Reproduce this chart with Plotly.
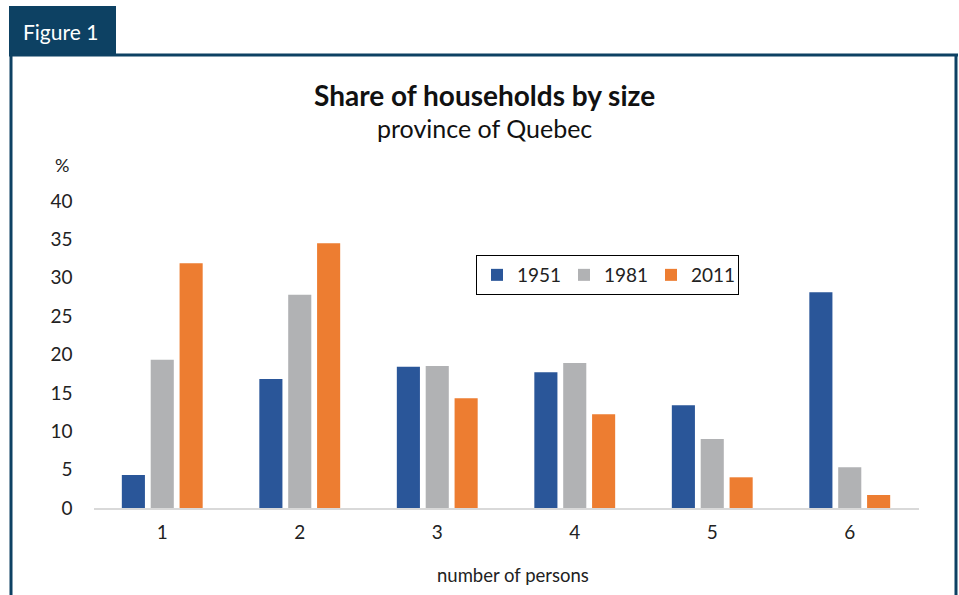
import plotly.graph_objects as go

W, H = 959, 595
categories = ["1", "2", "3", "4", "5", "6"]
years = ["1951", "1981", "2011"]
v1951 = [4.3, 16.8, 18.4, 17.7, 13.4, 28.1]
v1981 = [19.3, 27.8, 18.5, 18.9, 9.0, 5.3]
v2011 = [31.9, 34.5, 14.3, 12.2, 4.0, 1.7]
colors = ["#2a5699", "#b1b2b4", "#ed7d31"]
yticks = [0, 5, 10, 15, 20, 25, 30, 35, 40]

FONT = "Lato"
def px(x): return x / W
def py(y): return 1 - y / H

fig = go.Figure()
for name, vals, c in zip(years, [v1951, v1981, v2011], colors):
    fig.add_trace(go.Bar(x=categories, y=vals, name=name, marker=dict(color=c, line=dict(width=0))))

frame = "#0d4163"
fig.update_layout(
    width=W, height=H, autosize=False,
    margin=dict(l=0, r=0, t=0, b=0, pad=0, autoexpand=False),
    paper_bgcolor="white", plot_bgcolor="white",
    barmode="group", bargap=0.37, bargroupgap=0.2,
    font=dict(family=FONT, color="#222222"),
    xaxis=dict(domain=[px(93.5), px(918.5)], showgrid=False, showline=True,
               linecolor="#d9d9d9", linewidth=2, ticks="", tickfont=dict(size=19),
               ticklabelstandoff=6, automargin=False),
    yaxis=dict(domain=[py(508), py(201)], range=[0, 40], tickvals=yticks,
               showgrid=False, showline=False, zeroline=False, ticks="",
               tickfont=dict(size=19), ticklabelstandoff=20, automargin=False),
    legend=dict(orientation="h", x=px(476), y=py(255), xanchor="left", yanchor="top",
                bordercolor="black", borderwidth=1, font=dict(size=19),
                itemwidth=30, entrywidth=42, tracegroupgap=0),
    showlegend=True,
    shapes=[
        dict(type="rect", xref="paper", yref="paper", x0=px(9), x1=px(116), y0=py(56), y1=py(6),
             fillcolor=frame, line=dict(width=0)),
        dict(type="line", xref="paper", yref="paper", x0=px(9), x1=px(958), y0=py(55), y1=py(55),
             line=dict(color=frame, width=3)),
        dict(type="line", xref="paper", yref="paper", x0=px(11), x1=px(11), y0=py(55), y1=0,
             line=dict(color=frame, width=3)),
        dict(type="line", xref="paper", yref="paper", x0=px(956), x1=px(956), y0=py(55), y1=0,
             line=dict(color=frame, width=3)),
    ],
    annotations=[
        dict(text="Figure 1", x=px(21), y=py(31), xref="paper", yref="paper", xanchor="left",
             yanchor="middle", showarrow=False, font=dict(size=21, color="white", family=FONT)),
        dict(text="<b>Share of households by size</b>", x=px(484), y=py(95), xref="paper", yref="paper",
             xanchor="center", yanchor="middle", showarrow=False, font=dict(size=28, color="#111111")),
        dict(text="province of Quebec", x=px(484), y=py(128), xref="paper", yref="paper",
             xanchor="center", yanchor="middle", showarrow=False, font=dict(size=25, color="#111111")),
        dict(text="%", x=px(62), y=py(165), xref="paper", yref="paper",
             xanchor="center", yanchor="middle", showarrow=False, font=dict(size=18)),
        dict(text="number of persons", x=px(513), y=py(575), xref="paper", yref="paper",
             xanchor="center", yanchor="middle", showarrow=False, font=dict(size=18.5)),
    ],
)
fig.write_html("out.html", post_script="document.body.style.margin='0';document.body.style.overflow='hidden';")
